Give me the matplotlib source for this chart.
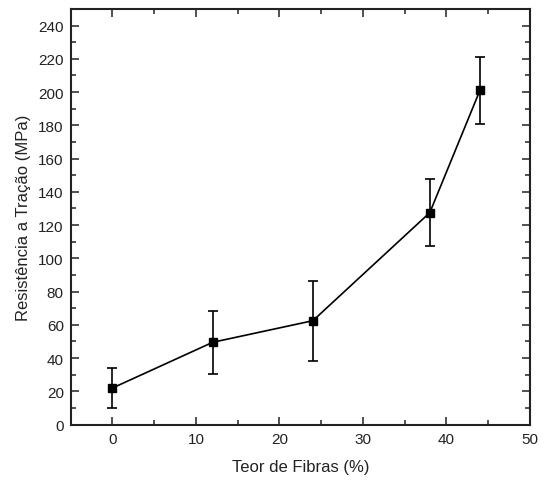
import matplotlib.pyplot as plt
from matplotlib.ticker import MultipleLocator

plt.rcParams['font.family'] = ['Liberation Sans', 'DejaVu Sans']

teor = [0, 12, 24, 38, 44]
resistencia = [22, 49.5, 62.5, 127.5, 201]
erro = [12, 19, 24, 20, 20]

fig = plt.figure(figsize=(5.44, 4.89), dpi=100)
ax = fig.add_axes([70.7 / 544, 1 - 425.6 / 489, (530 - 70.7) / 544, (425.6 - 10) / 489])

ax.errorbar(teor, resistencia, yerr=erro, color='black', marker='s', markersize=6,
            linewidth=1.2, elinewidth=1.2, capsize=3.5, capthick=1.2)

ax.set_xlim(-5, 50)
ax.set_ylim(0, 250)
ax.xaxis.set_major_locator(MultipleLocator(10))
ax.xaxis.set_minor_locator(MultipleLocator(5))
ax.yaxis.set_major_locator(MultipleLocator(20))
ax.yaxis.set_minor_locator(MultipleLocator(10))
ax.set_yticks(range(0, 241, 20))

for s in ax.spines.values():
    s.set_linewidth(1.5)
    s.set_color('#222222')

ax.tick_params(which='both', direction='in', top=True, right=True, width=1.1, color='#222222')
ax.tick_params(which='major', length=6, labelsize=11, labelcolor='#222222', pad=5)
ax.tick_params(which='minor', length=3.5)

ax.set_xlabel('Teor de Fibras (%)', fontsize=12, color='#222222', labelpad=10)
ax.set_ylabel('Resistência a Tração (MPa)', fontsize=12, color='#222222', labelpad=5)

fig.savefig('out.png', dpi=100)
